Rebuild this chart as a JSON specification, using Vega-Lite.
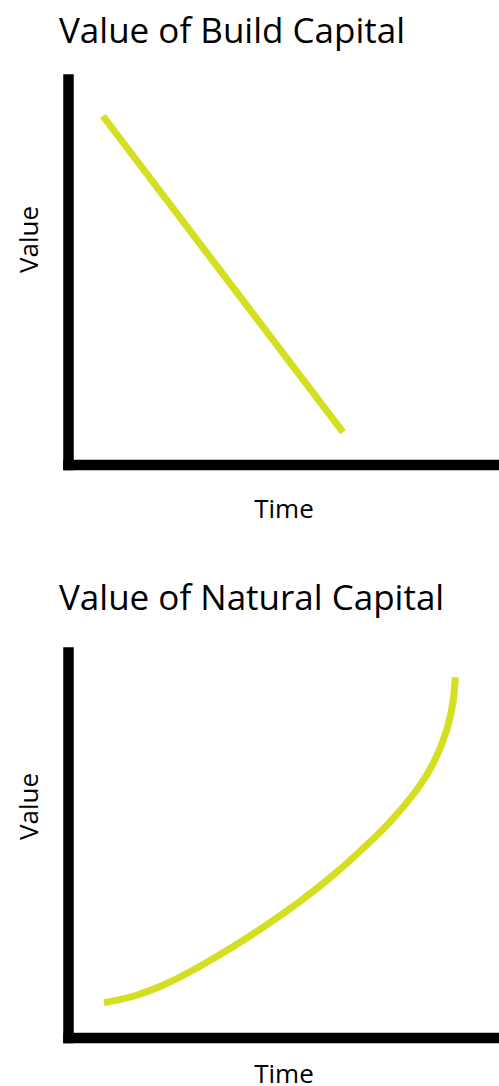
{
  "$schema": "https://vega.github.io/schema/vega-lite/v6.json",
  "autosize": {"type": "pad"},
  "padding": {"left": 16, "top": 15, "right": 0, "bottom": 0},
  "background": "white",
  "config": {
    "view": {"stroke": null},
    "font": "Open Sans",
    "concat": {"spacing": 59},
    "title": {"font": "Open Sans", "fontSize": 35, "fontWeight": "normal", "color": "black", "anchor": "start", "baseline": "alphabetic", "frame": "group"},
    "axis": {"domainColor": "black", "domainWidth": 10.5, "domainCap": "square", "ticks": false, "labels": false, "grid": false, "titleFont": "Open Sans", "titleFontSize": 26, "titleFontWeight": "normal", "titleColor": "black"}
  },
  "vconcat": [
    {
      "width": 431,
      "height": 385.5,
      "title": {"text": "Value of Build Capital", "dx": -9, "offset": 29},
      "data": {"values": [
        {"time": 0.81, "value": 9.04},
        {"time": 6.38, "value": 0.84}
      ]},
      "mark": {"type": "line", "color": "#d5df22", "strokeWidth": 7, "strokeCap": "butt"},
      "encoding": {
        "x": {"field": "time", "type": "quantitative", "scale": {"domain": [0, 10], "nice": false, "zero": false}, "axis": {"title": "Time", "titlePadding": 32}},
        "y": {"field": "value", "type": "quantitative", "scale": {"domain": [0, 10], "nice": false, "zero": false}, "axis": {"title": "Value", "titleAngle": 270, "titleBaseline": "alphabetic", "titleX": -31, "titleY": 160}}
      }
    },
    {
      "width": 431,
      "height": 385.5,
      "title": {"text": "Value of Natural Capital", "dx": -9, "offset": 35},
      "data": {"values": [
        {"time": 0.835, "value": 0.903},
        {"time": 1.515, "value": 1.07},
        {"time": 2.29, "value": 1.40},
        {"time": 3.063, "value": 1.85},
        {"time": 3.835, "value": 2.36},
        {"time": 4.61, "value": 2.92},
        {"time": 5.383, "value": 3.53},
        {"time": 6.156, "value": 4.215},
        {"time": 6.93, "value": 4.994},
        {"time": 7.548, "value": 5.686},
        {"time": 8.09, "value": 6.42},
        {"time": 8.476, "value": 7.113},
        {"time": 8.787, "value": 7.977},
        {"time": 8.94, "value": 8.755},
        {"time": 8.986, "value": 9.344}
      ]},
      "mark": {"type": "line", "color": "#d5df22", "strokeWidth": 7, "strokeCap": "butt", "interpolate": "natural"},
      "encoding": {
        "x": {"field": "time", "type": "quantitative", "scale": {"domain": [0, 10], "nice": false, "zero": false}, "axis": {"title": "Time", "titlePadding": 24}},
        "y": {"field": "value", "type": "quantitative", "scale": {"domain": [0, 10], "nice": false, "zero": false}, "axis": {"title": "Value", "titleAngle": 270, "titleBaseline": "alphabetic", "titleX": -31, "titleY": 154}}
      }
    }
  ]
}
